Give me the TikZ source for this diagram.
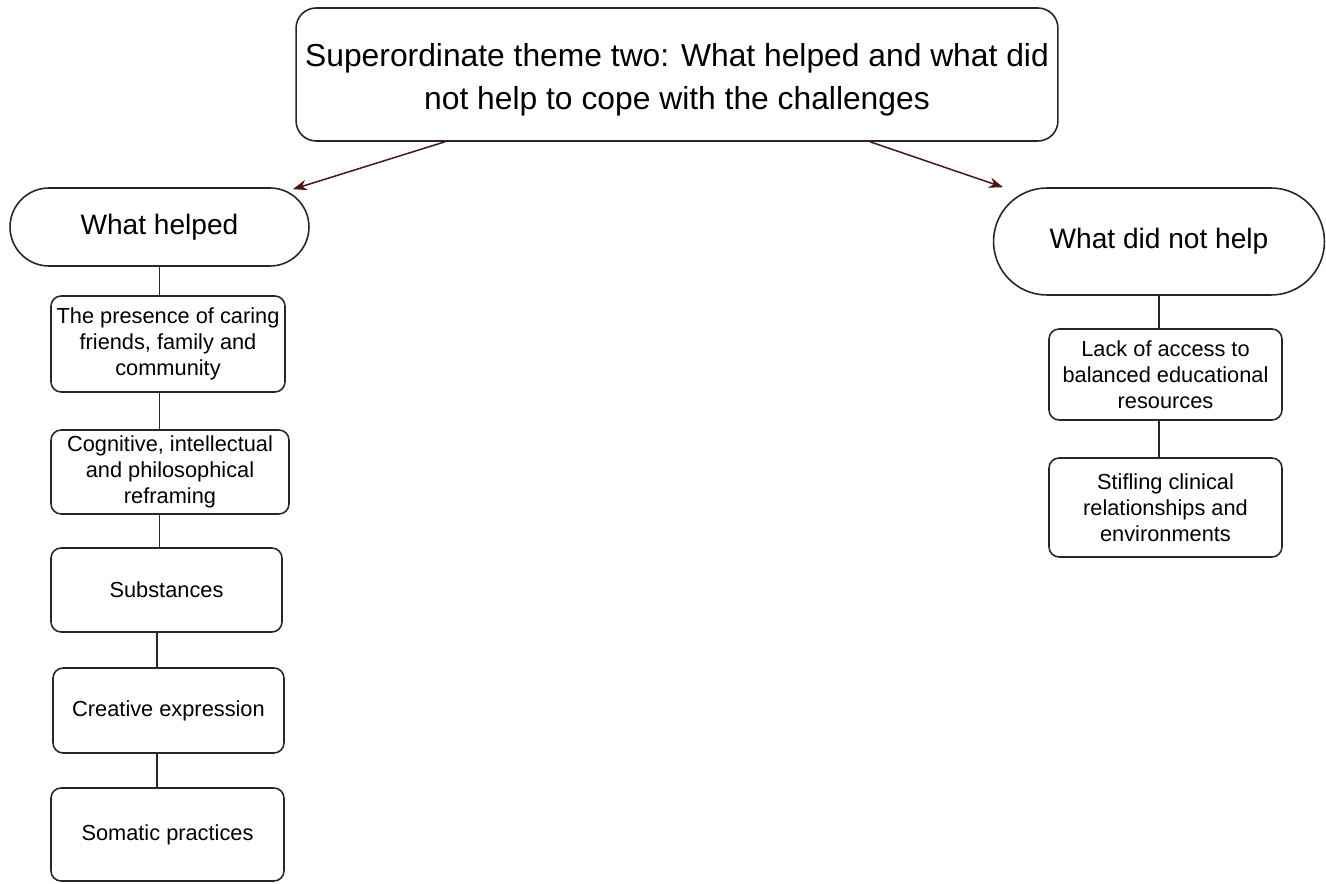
\documentclass[tikz,border=0pt]{standalone}
\usepackage{fontspec}
\setmainfont{Liberation Sans}
\usetikzlibrary{arrows.meta,calc}
\definecolor{arrowred}{HTML}{4A1515}
\begin{document}
\begin{tikzpicture}[x=0.02cm,y=-0.02cm,
  box/.style={draw=black!85,line width=0.9pt,rounded corners=0.2cm,align=center,inner sep=0pt},
  stad/.style={draw=black!85,line width=0.9pt,align=center,inner sep=0pt},
  small/.style={font=\fontsize{12.4}{14.7}\selectfont},
  conn/.style={draw=black!85,line width=0.9pt},
  arr/.style={draw=arrowred,line width=0.85pt,-{Stealth[length=8pt,width=6pt]}}
]
\useasboundingbox (0,0) rectangle (1326,884);
\node[box,rounded corners=0.4cm,minimum width=15.24cm,minimum height=2.66cm,font=\fontsize{18.1}{24.4}\selectfont] (top) at (677,74.5)
  {\rule{0pt}{19pt}Superordinate theme two: What helped and what did\\not help to cope with the challenges};
\node[stad,rounded corners=0.78cm,minimum width=5.98cm,minimum height=1.56cm,font=\fontsize{16}{19}\selectfont] (wh) at (159.5,227) {What helped};
\node[stad,rounded corners=1.07cm,minimum width=6.62cm,minimum height=2.14cm,font=\fontsize{16}{19}\selectfont] (wn) at (1159,241.5) {What did not help};

\node[box,small,minimum width=4.68cm,minimum height=1.92cm] (b1) at (168,344) {The presence of caring\\friends, family and\\community};
\node[box,small,minimum width=4.76cm,minimum height=1.68cm] (b2) at (170,472) {Cognitive, intellectual\\and philosophical\\reframing};
\node[box,small,minimum width=4.62cm,minimum height=1.68cm] (b3) at (166.5,590) {Substances};
\node[box,small,minimum width=4.62cm,minimum height=1.70cm] (b4) at (168.5,710.5) {Creative expression};
\node[box,small,minimum width=4.66cm,minimum height=1.86cm] (b5) at (167.5,834.5) {Somatic practices};

\node[box,small,minimum width=4.66cm,minimum height=1.82cm] (r1) at (1165.5,374.5) {Lack of access to\\balanced educational\\resources};
\node[box,small,minimum width=4.66cm,minimum height=1.98cm] (r2) at (1165.5,507.5) {Stifling clinical\\relationships and\\environments};

\draw[arr] ([xshift=-4.64cm]top.south) -- ([xshift=2.67cm,yshift=-0.04cm]wh.north);
\draw[arr] ([xshift=3.86cm]top.south) -- ([xshift=-3.12cm]wn.north);

\draw[conn] (wh.south) -- (wh.south |- b1.north);
\draw[conn] (wh.south |- b1.south) -- (wh.south |- b2.north);
\draw[conn] (wh.south |- b2.south) -- (wh.south |- b3.north);
\draw[conn] ([xshift=-0.19cm]b3.south) -- ([xshift=-0.23cm]b4.north);
\draw[conn] ([xshift=-0.23cm]b4.south) -- ([xshift=-0.21cm]b5.north);

\draw[conn] (wn.south) -- (wn.south |- r1.north);
\draw[conn] (wn.south |- r1.south) -- (wn.south |- r2.north);
\end{tikzpicture}
\end{document}
